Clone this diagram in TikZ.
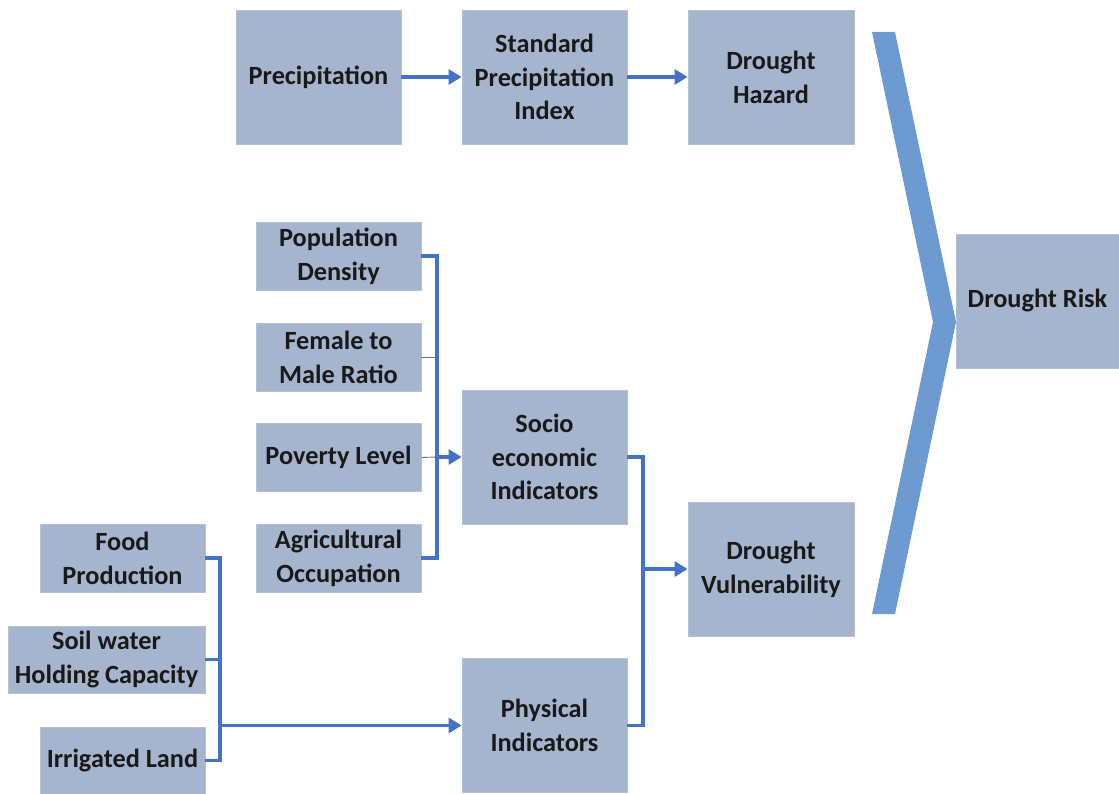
\documentclass[tikz,border=0pt]{standalone}
\usepackage{fontspec}
\setmainfont{Carlito}
\usetikzlibrary{arrows.meta}
\definecolor{boxfill}{HTML}{A6B5CE}
\definecolor{boxedge}{HTML}{B3C0D6}
\definecolor{linkc}{HTML}{4472C4}
\definecolor{chev}{HTML}{6D9BD1}
\definecolor{thinc}{HTML}{5F7290}
\tikzset{
  box/.style={fill=boxfill, draw=boxedge, line width=0.8pt, inner sep=0pt, align=center,
    font=\fontsize{26.3}{33.8}\selectfont\bfseries, text=black!90},
  bigbox/.style={box, minimum width=165pt, minimum height=134pt},
  smallbox/.style={box, minimum width=165pt, minimum height=68pt},
  link/.style={draw=linkc, line width=3.2pt},
  thin/.style={draw=thinc, line width=0.9pt},
  arr/.style={link, -{Triangle[length=13pt,width=15pt]}},
}
\begin{document}
\begin{tikzpicture}[x=1pt,y=-1pt]
\useasboundingbox (0,0) rectangle (1119,794);
% top row
\node[bigbox] (prec) at (318.5,77) {Precipitation};
\node[bigbox] (spi) at (544.5,77) {Standard\\Precipitation\\Index};
\node[bigbox, minimum width=166pt] (haz) at (771,77) {Drought\\Hazard};
\node[bigbox, minimum width=163pt] (risk) at (1037.5,301) {Drought Risk};
% socio-economic inputs
\node[smallbox] (pop) at (338.5,256) {Population\\Density};
\node[smallbox] (fem) at (338.5,357) {Female to\\Male Ratio};
\node[smallbox] (pov) at (338.5,457.5) {Poverty Level};
\node[smallbox] (agr) at (338.5,558) {Agricultural\\Occupation};
\node[bigbox] (socio) at (544.5,457) {Socio\\economic\\Indicators};
\node[bigbox] (phys) at (544.5,725.5) {Physical\\Indicators};
\node[bigbox, minimum width=166pt] (vul) at (771,569) {Drought\\Vulnerability};
% physical inputs
\node[smallbox] (food) at (122.5,558) {Food\\Production};
\node[smallbox, minimum width=197pt, minimum height=67pt] (soil) at (106.5,659.5) {Soil water\\Holding Capacity};
\node[smallbox, minimum height=67pt] (irr) at (122.5,760.5) {Irrigated Land};
% chevron
\fill[chev] (872,32) -- (895,32) -- (956,322) -- (895,614) -- (872,614) -- (933,322) -- cycle;
% coordinates
\coordinate (s1) at (437,256);
\coordinate (s2) at (437,558);
\coordinate (sf) at (437,357);
\coordinate (sp) at (437,457);
\coordinate (p1) at (220,558);
\coordinate (p2) at (220,760.5);
\coordinate (ps) at (220,659.5);
\coordinate (pa) at (220,725.5);
\coordinate (v1) at (643,457);
\coordinate (v2) at (643,725.5);
\coordinate (va) at (643,569);
% top arrows
\draw[arr] (prec) -- (spi);
\draw[arr] (spi) -- (haz);
% socio bracket
\draw[thin] (fem.east) -- (sf);
\draw[thin] (pov.east) -- (sp);
\draw[link] (pop.east) -- (s1) -- (s2) -- (agr.east);
\draw[arr] (sp) -- (socio.west);
% physical bracket
\draw[link] (food.east) -- (p1) -- (p2) -- (irr.east);
\draw[link] (soil.east) -- (ps);
\draw[arr] (pa) -- (phys.west);
% vulnerability bracket
\draw[link] (socio.east) -- (v1) -- (v2) -- (phys.east);
\draw[arr] (va) -- (vul.west);
\end{tikzpicture}
\end{document}
